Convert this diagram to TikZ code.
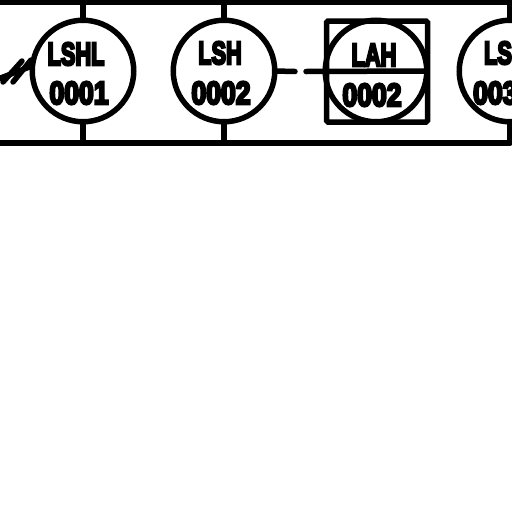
\documentclass[tikz,border=0pt]{standalone}
\usepackage{fontspec}
\newfontfamily\tagfont[UprightFont={* Bold},FakeBold=8]{Liberation Sans}
\tikzset{
  x=1pt,y=-1pt,
  ln/.style={line width=5.5pt,line cap=round,line join=round},
  inst/.style={circle,draw,line width=5.5pt,minimum size=101.5pt,inner sep=0pt,outer sep=0pt},
  tag/.style={inner sep=0pt,font=\tagfont\fontsize{32}{32}\selectfont,xscale=.68,anchor=center},
  num/.style={tag,xscale=1.22},
}
\begin{document}
\begin{tikzpicture}
\useasboundingbox (0,0) rectangle (512,512);
\node[inst] (c1) at (83,71) {};
\node[inst] (c2) at (224,71) {};
\node[inst] (c3) at (376,71) {};
\node[inst] (c4) at (510,71) {};
\node[draw,line width=5.5pt,rounded corners=1.5pt,minimum size=101pt,inner sep=0pt,outer sep=0pt] (box) at (377,71.5) {};
\coordinate (t0) at (0,2); \coordinate (tr) at (510,2);
\coordinate (b0) at (0,143); \coordinate (br) at (510,143);
\coordinate (t1) at (83,2); \coordinate (t2) at (224,2);
\coordinate (b1) at (83,143); \coordinate (b2) at (224,143);
\draw[ln] (t0) -- (tr) -- (c4.north);
\draw[ln] (b0) -- (br) -- (c4.south);
\draw[ln] (t1) -- (c1.north);
\draw[ln] (t2) -- (c2.north);
\draw[ln] (b1) -- (c1.south);
\draw[ln] (b2) -- (c2.south);
\coordinate (d1) at (295,71.5); \coordinate (d2) at (306,71.5);
\draw[ln] (c2.east) -- (d1);
\draw[ln] (d2) -- (c3.east);
\coordinate (w0) at (-2,79); \coordinate (w1) at (32,66);
\coordinate (s1a) at (3,82); \coordinate (s1b) at (22,61);
\coordinate (s2a) at (13,82); \coordinate (s2b) at (31,60);
\draw[ln] (w0) -- (w1);
\draw[ln] (s1a) -- (s1b);
\draw[ln] (s2a) -- (s2b);
\node[tag] (n1) at (76,54) {LSHL};
\node[num] (m1) at (79,93) {0001};
\node[tag] (n2) at (220,53) {LSH};
\node[num] (m2) at (221,93) {0002};
\node[tag] (n3) at (374,55) {LAH};
\node[num] (m3) at (372,95) {0002};
\node[tag,anchor=west] (n4) at (484,53) {LS};
\node[num,anchor=west] (m4) at (473,93) {003};
\end{tikzpicture}
\end{document}
